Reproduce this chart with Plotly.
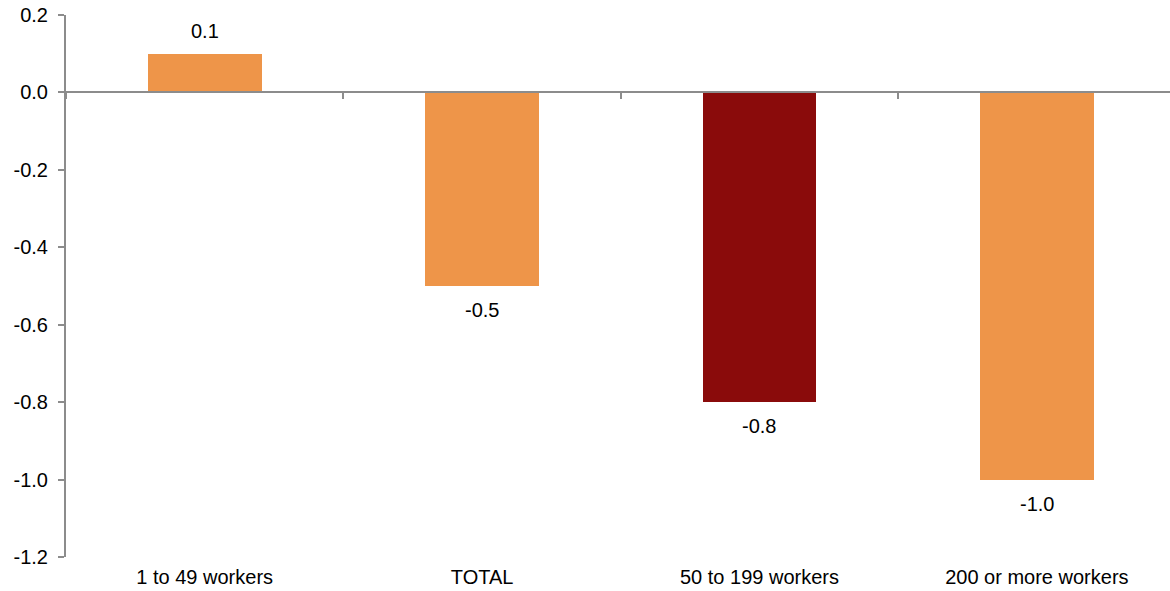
import plotly.graph_objects as go

categories = ["1 to 49 workers", "TOTAL", "50 to 199 workers", "200 or more workers"]
values = [0.1, -0.5, -0.8, -1.0]
colors = ["#EE9549", "#EE9549", "#8A0B0B", "#EE9549"]
y_ticks = [0.2, 0.0, -0.2, -0.4, -0.6, -0.8, -1.0, -1.2]
y_tick_labels = ["0.2", "0.0", "-0.2", "-0.4", "-0.6", "-0.8", "-1.0", "-1.2"]

FONT = "Liberation Sans, Arial, sans-serif"
FS = 20
AX = "#8C8C8C"

fig = go.Figure()
fig.add_trace(go.Bar(x=categories, y=values, marker=dict(color=colors, line=dict(width=0)),
                     width=0.41, showlegend=False, hoverinfo="x+y"))
# invisible trace on the zero-line axis (for boundary tick marks)
fig.add_trace(go.Scatter(x=categories, y=[0] * len(categories), xaxis="x2", yaxis="y",
                         mode="markers", marker=dict(opacity=0), showlegend=False, hoverinfo="skip"))

for c, v in zip(categories, values):
    fig.add_annotation(x=c, y=v, text=f"{v:.1f}", showarrow=False,
                       yanchor="bottom" if v >= 0 else "top",
                       yshift=10 if v >= 0 else -11,
                       font=dict(family=FONT, size=FS, color="#000000"))

xr = [-0.5, 3.48]
fig.update_layout(
    width=1170, height=591,
    margin=dict(l=66, r=0, t=15, b=34),
    plot_bgcolor="white", paper_bgcolor="white",
    font=dict(family=FONT, size=FS, color="#000000"),
    bargap=0,
    xaxis=dict(type="category", categoryorder="array", categoryarray=categories, range=xr,
               showline=False, ticks="", showgrid=False, zeroline=False,
               ticklabelstandoff=6,
               tickfont=dict(family=FONT, size=FS, color="#000000")),
    xaxis2=dict(type="category", categoryorder="array", categoryarray=categories, range=xr,
                overlaying="x", anchor="free", position=1.2 / 1.4,
                showline=True, linecolor=AX, linewidth=2,
                ticks="outside", tickson="boundaries", ticklen=6, tickwidth=2, tickcolor=AX,
                showticklabels=False, showgrid=False, zeroline=False),
    yaxis=dict(range=[-1.2, 0.2], tickvals=y_ticks, ticktext=y_tick_labels,
               showline=True, linecolor=AX, linewidth=2,
               ticks="outside", ticklen=6, tickwidth=2, tickcolor=AX,
               ticklabelstandoff=6,
               showgrid=False, zeroline=False,
               tickfont=dict(family=FONT, size=FS, color="#000000")),
)

fig.write_html("out.html")
